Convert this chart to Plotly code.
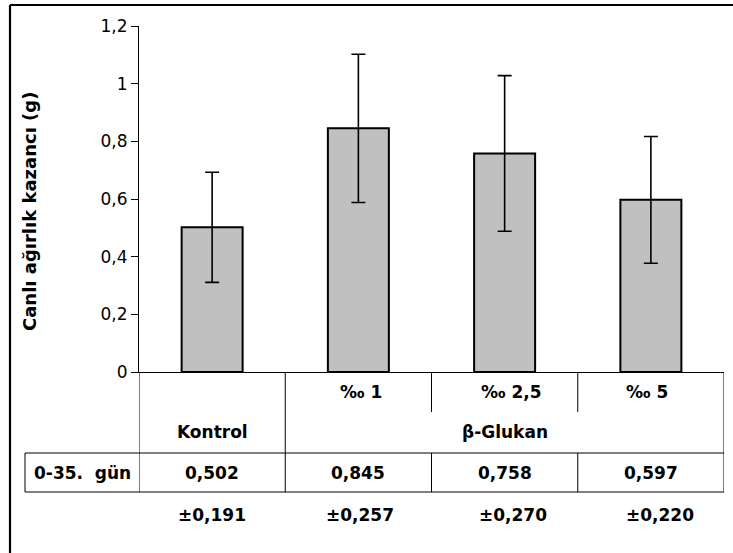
import plotly.graph_objects as go

# ---- data ----
categories = ["Kontrol", "‰ 1", "‰ 2,5", "‰ 5"]
sub_labels = ["", "‰ 1", "‰ 2,5", "‰ 5"]
means = [0.502, 0.845, 0.758, 0.597]
sds = [0.191, 0.257, 0.270, 0.220]
mean_labels = ["0,502", "0,845", "0,758", "0,597"]
sd_labels = ["±0,191", "±0,257", "±0,270", "±0,220"]
group_control = "Kontrol"
group_beta = "β-Glukan"
row_label = "0-35.&nbsp; gün"
y_title = "Canlı ağırlık kazancı (g)"
y_ticks = [0, 0.2, 0.4, 0.6, 0.8, 1.0, 1.2]

# ---- layout geometry (pixels) ----
W, H = 733, 553
L, R, T, B = 139, 9, 26, 181
PW, PH = W - L - R, H - T - B
y0px = T + PH  # pixel of y=0


def py(p):  # pixel y -> paper y
    return (y0px - p) / PH


def px(p):  # pixel x -> paper x
    return (p - L) / PW


FONT = "DejaVu Sans"
n = len(categories)
xs = list(range(n))

fig = go.Figure()
fig.add_trace(go.Bar(
    x=xs, y=means,
    marker=dict(color="#C0C0C0", line=dict(color="black", width=2)),
    error_y=dict(type="data", array=sds, visible=True, color="black",
                 thickness=1.6, width=7),
    width=0.417,
    hoverinfo="skip",
))

shapes = []
line = dict(color="black", width=1)
# vertical table lines
for k in range(n + 1):
    xv = k - 0.5
    if k in (0, 1, n):
        shapes.append(dict(type="line", xref="x", yref="paper", x0=xv, x1=xv,
                           y0=py(372), y1=py(492), line=line))
    else:
        shapes.append(dict(type="line", xref="x", yref="paper", x0=xv, x1=xv,
                           y0=py(372), y1=py(412), line=line))
        shapes.append(dict(type="line", xref="x", yref="paper", x0=xv, x1=xv,
                           y0=py(453), y1=py(492), line=line))
# left edge of data row
shapes.append(dict(type="line", xref="paper", yref="paper", x0=px(25), x1=px(25),
                   y0=py(453), y1=py(492), line=line))
# horizontal lines
for yy in (453, 492):
    shapes.append(dict(type="line", xref="paper", yref="paper", x0=px(25), x1=1,
                       y0=py(yy), y1=py(yy), line=line))
# outer border (top and left)
border = dict(color="black", width=2.2)
shapes.append(dict(type="line", xref="paper", yref="paper", x0=px(10), x1=px(740),
                   y0=py(5), y1=py(5), line=border))
shapes.append(dict(type="line", xref="paper", yref="paper", x0=px(10), x1=px(10),
                   y0=py(5), y1=py(560), line=border))

ann = []
tf = dict(family=FONT, size=17, color="black", weight="bold")
sub_shift = [0, 3, 7, -4]
sd_shift = [0, 2, 8, 9]
common = dict(showarrow=False, xanchor="center", yanchor="middle", font=tf)
for i in range(n):
    if sub_labels[i]:
        ann.append(dict(x=xs[i], y=py(392), xref="x", yref="paper", text=sub_labels[i],
                        xshift=sub_shift[i], **common))
    ann.append(dict(x=xs[i], y=py(473), xref="x", yref="paper", text=mean_labels[i],
                    **common))
    ann.append(dict(x=xs[i], y=py(515), xref="x", yref="paper", text=sd_labels[i],
                    xshift=sd_shift[i], **common))
ann.append(dict(x=0, y=py(432), xref="x", yref="paper", text=group_control, **common))
ann.append(dict(x=2, y=py(432), xref="x", yref="paper", text=group_beta, **common))
ann.append(dict(x=px(82), y=py(473), xref="paper", yref="paper", text=row_label,
                **common))
ann.append(dict(x=px(29), y=py(212), xref="paper", yref="paper", text=y_title,
                textangle=-90, showarrow=False, xanchor="center", yanchor="middle",
                font=dict(family=FONT, size=18, color="black", weight="bold")))

fig.update_layout(
    width=W, height=H,
    margin=dict(l=L, r=R, t=T, b=B, pad=0),
    paper_bgcolor="white", plot_bgcolor="white",
    separators=", ",
    showlegend=False,
    shapes=shapes,
    annotations=ann,
    font=dict(family=FONT, size=17, color="black"),
    xaxis=dict(range=[-0.5, n - 0.5], showticklabels=False, ticks="",
               showgrid=False, zeroline=False, showline=True,
               linecolor="black", linewidth=1, fixedrange=True),
    yaxis=dict(range=[0, 1.2], tickvals=y_ticks, ticks="outside", ticklen=7,
               tickcolor="black", tickwidth=1, showgrid=False, zeroline=False,
               showline=True, linecolor="black", linewidth=1,
               tickfont=dict(family=FONT, size=17, color="black"),
               fixedrange=True),
)

fig.write_html(
    "out.html",
    config={"displayModeBar": False},
    post_script="document.body.style.margin='0';document.body.style.overflow='hidden';",
)
